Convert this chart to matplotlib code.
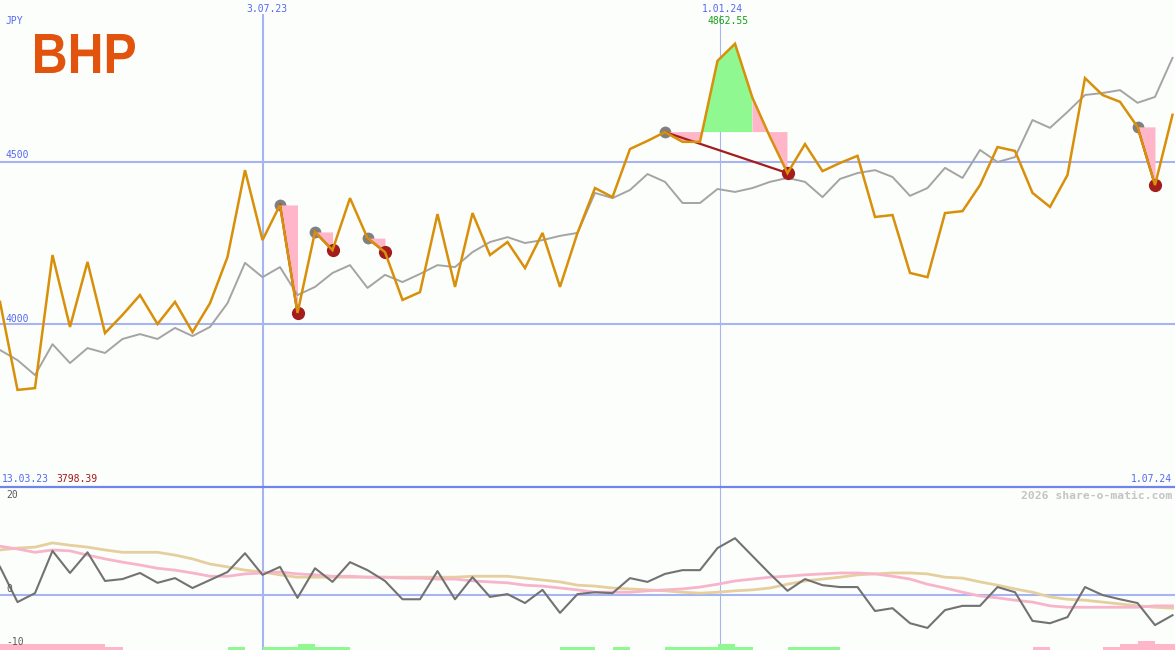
import numpy as np
import matplotlib
matplotlib.use("Agg")
import matplotlib.pyplot as plt
from matplotlib.textpath import TextPath
from matplotlib.patches import PathPatch
from matplotlib.font_manager import FontProperties
from matplotlib.transforms import Affine2D
from matplotlib.lines import Line2D

# ---------------- data (weekly) ----------------
price = [4069, 3798.39, 3804, 4213, 3992, 4192, 3973, 4029, 4090, 4001,
         4069, 3976, 4065, 4207, 4474, 4259, 4367, 4035, 4284, 4228,
         4388, 4265, 4222, 4075, 4099, 4339, 4115, 4342, 4213, 4253,
         4173, 4281, 4115, 4281, 4419, 4391, 4539, 4564, 4591, 4561,
         4561, 4810, 4862.55, 4696, 4576, 4465, 4554, 4471, 4496, 4518,
         4330, 4336, 4158, 4145, 4342, 4348, 4428, 4545, 4533, 4404,
         4361, 4459, 4757, 4705, 4684, 4607, 4428, 4644]

avg = [3921, 3890, 3844, 3939, 3881, 3927, 3912, 3955, 3970, 3955,
       3989, 3964, 3992, 4065, 4189, 4145, 4176, 4090, 4115, 4158,
       4182, 4112, 4152, 4130, 4155, 4182, 4176, 4222, 4253, 4268,
       4250, 4259, 4272, 4281, 4404, 4388, 4413, 4462, 4438, 4373,
       4373, 4416, 4407, 4419, 4438, 4450, 4438, 4391, 4447, 4465,
       4474, 4453, 4395, 4419, 4481, 4450, 4536, 4499, 4514, 4628,
       4604, 4653, 4705, 4711, 4720, 4681, 4699, 4819]

momentum = [6.0, -1.5, 0.4, 9.4, 4.7, 9.1, 3.0, 3.4, 4.7, 2.6,
            3.6, 1.5, 3.2, 4.9, 8.9, 4.3, 6.0, -0.6, 5.7, 2.8,
            7.0, 5.3, 3.0, -0.9, -0.9, 5.1, -0.9, 3.8, -0.4, 0.2,
            -1.7, 1.1, -3.8, 0.2, 0.6, 0.4, 3.6, 2.8, 4.5, 5.3,
            5.3, 10.0, 12.1, 8.3, 4.5, 0.9, 3.4, 2.1, 1.7, 1.7,
            -3.4, -2.8, -6.0, -7.0, -3.2, -2.3, -2.3, 1.7, 0.6, -5.5,
            -6.0, -4.7, 1.7, 0.0, -0.9, -1.7, -6.4, -4.3]

ma_pink = [10.4, 9.8, 9.1, 9.6, 9.4, 8.5, 7.7, 7.0, 6.4, 5.7,
           5.3, 4.7, 4.0, 4.0, 4.5, 4.7, 4.9, 4.5, 4.3, 4.0,
           4.0, 3.8, 3.8, 3.6, 3.6, 3.4, 3.4, 3.0, 2.8, 2.6,
           2.1, 1.9, 1.5, 1.1, 0.6, 0.6, 0.6, 0.9, 1.1, 1.3,
           1.7, 2.3, 3.0, 3.4, 3.8, 4.0, 4.3, 4.5, 4.7, 4.7,
           4.5, 4.0, 3.4, 2.3, 1.5, 0.6, -0.2, -0.6, -1.1, -1.5,
           -2.3, -2.6, -2.6, -2.6, -2.6, -2.6, -2.3, -2.3]

ma_tan = [9.6, 10.0, 10.2, 11.1, 10.6, 10.2, 9.6, 9.1, 9.1, 9.1,
          8.5, 7.7, 6.6, 6.0, 5.3, 4.9, 4.3, 3.8, 3.8, 3.8,
          3.8, 3.8, 3.8, 3.8, 3.8, 3.8, 3.8, 4.0, 4.0, 4.0,
          3.6, 3.2, 2.8, 2.1, 1.9, 1.5, 1.3, 1.1, 0.9, 0.6,
          0.4, 0.6, 0.9, 1.1, 1.5, 2.3, 3.0, 3.4, 3.8, 4.3,
          4.5, 4.7, 4.7, 4.5, 3.8, 3.6, 2.8, 2.1, 1.3, 0.6,
          -0.4, -0.9, -1.1, -1.5, -1.9, -2.3, -2.6, -2.8]

signal = [-2, -2, -2, -2, -2, -2, -1, 0, 0, 0,
          0, 0, 0, 1, 0, 1, 1, 2, 1, 1,
          0, 0, 0, 0, 0, 0, 0, 0, 0, 0,
          0, 0, 1, 1, 0, 1, 0, 0, 1, 1,
          1, 2, 1, 0, 0, 1, 1, 1, 0, 0,
          0, 0, 0, 0, 0, 0, 0, 0, 0, -1,
          0, 0, 0, -1, -2, -3, -2, -2]

trade_entry = [16, 18, 21, 38, 65]
trade_exit = [17, 19, 22, 45, 66]
trade_gain_until = [16, 18, 21, 43, 65]

price_levels = [4000, 4500]
osc_levels = [20, 0, -10]
date_pos = [15.03, 41.14]
date_labels = ["3.07.23", "1.01.24"]
start_label = "13.03.23"
end_label = "1.07.24"
currency = "JPY"
company = "BHP"
watermark = "2026 share-o-matic.com"

# ---------------- style ----------------
W, H = 1175, 650
BG = "#fcfefc"
BLUE_TXT = "#5468ee"
GRID = "#a6b4f2"
SEP = "#7084ea"
ORANGE = "#d8900a"
GRAYLINE = "#a4a4a4"
PINK = "#ffb6c9"
GREEN = "#90f890"
DARKRED = "#a41c1c"
DOTGRAY = "#808080"
MONO = "DejaVu Sans Mono"

def fx(x):
    return x / W

def fy(y):
    return 1 - y / H

fig = plt.figure(figsize=(W / 100, H / 100), dpi=100, facecolor=BG)
ax1 = fig.add_axes([0, 163 / H, 1, 487 / H])
ax2 = fig.add_axes([0, 0, 1, 163 / H])
idx = np.arange(len(price))
xmax = W / 17.5
for ax in (ax1, ax2):
    ax.set_axis_off()
    ax.set_xlim(0, xmax)
ax1.set_ylim(3500, 4997)
ax2.set_ylim(-11.7, 23.0)

# grid lines
for lv in price_levels:
    ax1.axhline(lv, color=GRID, lw=1.5, zorder=1)
ax2.axhline(0, color=GRID, lw=1.5, zorder=1)
for i, (dp, lab) in enumerate(zip(date_pos, date_labels)):
    lw = 1.5 if i == 0 else 0.8
    ax1.axvline(dp, ymin=0, ymax=1 - 15 / 487, color=GRID, lw=lw, zorder=1)
    ax2.axvline(dp, color=GRID, lw=lw, zorder=1)

# separator
fig.add_artist(Line2D([0, 1], [fy(487), fy(487)], transform=fig.transFigure,
                      color=SEP, lw=1.6))

# main lines
ax1.plot(idx, avg, color=GRAYLINE, lw=1.4, zorder=3)
ax1.plot(idx, price, color=ORANGE, lw=1.8, zorder=5, solid_joinstyle="miter")

# trades
for e, x, g in zip(trade_entry, trade_exit, trade_gain_until):
    lvl = price[e]
    xd = np.linspace(e, x, 600)
    pdv = np.interp(xd, idx, price)
    green = (pdv >= lvl) & (xd <= g)
    ax1.fill_between(xd, lvl, pdv, where=green, color=GREEN, lw=0, zorder=2.5)
    ax1.fill_between(xd, lvl, pdv, where=~green, color=PINK, lw=0, zorder=2.5)
    ax1.plot([e], [lvl], "o", color=DOTGRAY, ms=8.5, mew=0, zorder=2.2)
    ax1.plot([e, x], [lvl, price[x]], color=DARKRED, lw=1.6, zorder=4)
    ax1.plot([x], [price[x]], "o", color=DARKRED, ms=9.5, mew=0, zorder=4.5)

# oscillator panel
ax2.plot(idx, ma_tan, color="#e6cf9e", lw=2.0, zorder=3)
ax2.plot(idx, ma_pink, color="#f8b4ca", lw=2.0, zorder=3)
ax2.plot(idx, momentum, color="#727272", lw=1.5, zorder=4)
unit = 3 / 4.7
sig = np.array(signal)
ax2.bar(idx[sig > 0] + 0.5, np.abs(sig[sig > 0]) * unit, bottom=-11.7, width=1.0,
        color=GREEN, lw=0, zorder=2)
ax2.bar(idx[sig < 0] + 0.5, np.abs(sig[sig < 0]) * unit, bottom=-11.7, width=1.0,
        color=PINK, lw=0, zorder=2)

# texts
fs = 7
fig.text(fx(5), fy(21), currency, fontsize=fs, color=BLUE_TXT, family=MONO,
         ha="left", va="center")
fig.text(fx(6), fy(155.5), f"{price_levels[1]}", fontsize=fs, color=BLUE_TXT,
         family=MONO, ha="left", va="center")
fig.text(fx(6), fy(319), f"{price_levels[0]}", fontsize=fs, color=BLUE_TXT,
         family=MONO, ha="left", va="center")
fig.text(fx(267), fy(8.5), date_labels[0], fontsize=fs, color=BLUE_TXT,
         family=MONO, ha="center", va="center")
fig.text(fx(722), fy(8.5), date_labels[1], fontsize=fs, color=BLUE_TXT,
         family=MONO, ha="center", va="center")
fig.text(fx(728), fy(21), f"{max(price):.2f}", fontsize=fs, color="#14a014",
         family=MONO, ha="center", va="center")
fig.text(fx(2), fy(479), start_label, fontsize=fs, color=BLUE_TXT,
         family=MONO, ha="left", va="center")
fig.text(fx(56), fy(479), f"{min(price):.2f}", fontsize=fs, color="#a41818",
         family=MONO, ha="left", va="center")
fig.text(fx(1172), fy(479), end_label, fontsize=fs, color=BLUE_TXT,
         family=MONO, ha="right", va="center")
fig.text(fx(1172), fy(496), watermark, fontsize=8.2, color="#c4c4c4",
         family=MONO, weight="bold", ha="right", va="center")
for lab, yy in zip(osc_levels, [495.5, 589.5, 642]):
    fig.text(fx(6), fy(yy), f"{lab}", fontsize=fs, color="#5a5a5a",
             family=MONO, ha="left", va="center")

# logo
tp = TextPath((0, 0), company, size=100,
              prop=FontProperties(family="Liberation Sans", weight="bold"))
bb = tp.get_extents()
L, R, T, B = 35, 135, 34, 73
tr = (Affine2D().translate(-bb.x0, -bb.y0)
      .scale((R - L) / bb.width / W, (B - T) / bb.height / H)
      .translate(L / W, 1 - B / H)) + fig.transFigure
fig.add_artist(PathPatch(tp, transform=tr, color="#e2540e", lw=0))

fig.savefig("out.png", dpi=100, facecolor=BG)
